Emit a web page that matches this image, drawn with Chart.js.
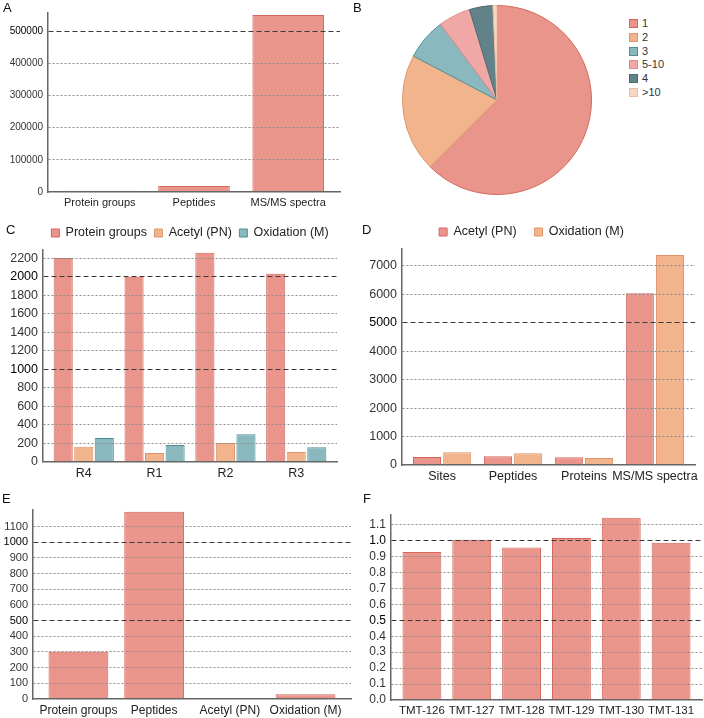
<!DOCTYPE html>
<html>
<head>
<meta charset="utf-8">
<script src="https://cdn.jsdelivr.net/npm/chart.js@4.4.1/dist/chart.umd.min.js"></script>
<style>
body { margin: 0; background: #fff; }
#page { position: relative; width: 704px; height: 718px; overflow: hidden; font-family: "Liberation Sans", Arial, sans-serif; }
.panel { position: absolute; }
.tag { position: absolute; font-size: 13px; line-height: 13px; color: #111; }
#legendB { position: absolute; left: 629px; top: 17px; font-size: 11px; color: #333; }
#legendB div { height: 13.8px; line-height: 13.8px; white-space: nowrap; }
#legendB span { display: inline-block; width: 7px; height: 7px; margin-right: 4px; border: 1px solid; vertical-align: -1px; }
</style>
</head>
<body>
<div id="page">
  <div class="panel" style="left:0;top:0;width:352px;height:212px"><canvas id="chartA"></canvas></div>
  <div class="panel" style="left:402px;top:5px;width:190px;height:190px"><canvas id="chartB"></canvas></div>
  <div class="panel" style="left:0;top:212px;width:352px;height:275px"><canvas id="chartC"></canvas></div>
  <div class="panel" style="left:360px;top:200px;width:344px;height:287px"><canvas id="chartD"></canvas></div>
  <div class="panel" style="left:0;top:490px;width:352px;height:228px"><canvas id="chartE"></canvas></div>
  <div class="panel" style="left:360px;top:490px;width:344px;height:228px"><canvas id="chartF"></canvas></div>
  <div id="legendB"></div>
  <div class="tag" style="left:3px;top:1px">A</div>
  <div class="tag" style="left:353px;top:1px">B</div>
  <div class="tag" style="left:6px;top:223px">C</div>
  <div class="tag" style="left:362px;top:223px">D</div>
  <div class="tag" style="left:2px;top:492px">E</div>
  <div class="tag" style="left:363px;top:492px">F</div>
</div>
<script>
// A - totals
const catA = ["Protein groups", "Peptides", "MS/MS spectra"]
const valA = [3500, 18600, 550000]
const ticksA = [0, 100000, 200000, 300000, 400000, 500000]
const majorA = [500000]

// B - pie
const labelsB = ["1", "2", "3", "5-10", "4", ">10"]
const valB = [62.5, 20.2, 7.1, 5.5, 4.0, 0.7]

// C - replicates
const catC = ["R4", "R1", "R2", "R3"]
const proteinC = [2206, 2003, 2263, 2036]
const acetylC = [163, 94, 203, 105]
const oxidC = [257, 181, 297, 156]
const ticksC = [0, 200, 400, 600, 800, 1000, 1200, 1400, 1600, 1800, 2000, 2200]
const majorC = [1000, 2000]

// D - modifications
const catD = ["Sites", "Peptides", "Proteins", "MS/MS spectra"]
const acetylD = [281, 305, 270, 6033]
const oxidD = [446, 410, 246, 7379]
const ticksD = [0, 1000, 2000, 3000, 4000, 5000, 6000, 7000]
const majorD = [5000]

// E
const catE = ["Protein groups", "Peptides", "Acetyl (PN)", "Oxidation (M)"]
const valE = [301, 1195, 0, 30]
const ticksE = [0, 100, 200, 300, 400, 500, 600, 700, 800, 900, 1000, 1100]
const majorE = [500, 1000]

// F - TMT channels
const catF = ["TMT-126", "TMT-127", "TMT-128", "TMT-129", "TMT-130", "TMT-131"]
const valF = [0.929, 1.006, 0.956, 1.016, 1.144, 0.987]
const ticksF = [0, 0.1, 0.2, 0.3, 0.4, 0.5, 0.6, 0.7, 0.8, 0.9, 1.0, 1.1]
const majorF = [0.5, 1.0]

const salmon = "#E9958B", salmonLine = "#D4675E"
const orange = "#F2B48D", orangeLine = "#E0956A"
const teal = "#89B9BF", tealLine = "#4E8F96"
const pieColors = [salmon, orange, teal, "#EFA8A6", "#62828A", "#F8D6C3"]
const pieLines = [salmonLine, orangeLine, tealLine, "#E08C8A", "#4C6A71", "#EDBCA2"]

const gridMinor = "#8c8c8c"
const gridMajor = "#3a3a3a"
const axisColor = "#666"

Chart.defaults.font.family = '"Liberation Sans", Arial, sans-serif'
Chart.defaults.color = "#222"
Chart.defaults.animation = false

// category axis built on a linear scale so the bars can sit slightly inside the axis line
function indexAxis(categories, pad, fontSize, height, padding) {
    return {
        type: "linear",
        bounds: "data",
        offset: false,
        min: -0.5 - pad,
        max: categories.length - 0.5 + pad,
        afterBuildTicks: axis => { axis.ticks = categories.map((c, i) => ({value: i})) },
        afterFit: axis => { axis.height = height },
        grid: {display: false, drawTicks: false, offset: false},
        border: {display: true, color: axisColor, width: 1.5, z: 1},
        ticks: {autoSkip: false, maxRotation: 0, minRotation: 0, padding: padding, font: {size: fontSize},
            callback: v => categories[v]}
    }
}

function valueAxis(tickValues, majors, max, fontSize, width, format) {
    let isMajor = c => c.tick && majors.includes(c.tick.value)
    return {
        type: "linear",
        bounds: "data",
        min: 0,
        max: max,
        afterBuildTicks: axis => { axis.ticks = tickValues.map(v => ({value: v})) },
        afterFit: axis => { axis.width = width },
        grid: {
            drawTicks: false, z: 1, lineWidth: 1,
            color: c => (c.tick && c.tick.value === 0) ? "rgba(0,0,0,0)" : (isMajor(c) ? gridMajor : gridMinor)
        },
        border: {display: true, color: axisColor, width: 1.5, z: 1,
            dash: c => c.tick ? (isMajor(c) ? [5, 3] : [2, 2]) : []},
        ticks: {autoSkip: false, padding: 5, font: {size: fontSize}, color: c => isMajor(c) ? "#000" : "#333",
            callback: format || (v => String(v))}
    }
}

function bars(label, data, fill, line) {
    return {label: label, data: data, backgroundColor: fill, borderColor: line, borderWidth: 1}
}

function barChart(id, categories, datasets, xAxis, yAxis, padding, legend, barPct, catPct) {
    new Chart(document.getElementById(id), {
        type: "bar",
        data: {labels: categories.map((c, i) => i), datasets: datasets},
        options: {
            responsive: true,
            maintainAspectRatio: false,
            layout: {padding: padding},
            datasets: {bar: {barPercentage: barPct, categoryPercentage: catPct}},
            scales: {x: xAxis, y: yAxis},
            plugins: {legend: legend || {display: false}, tooltip: {enabled: false}}
        }
    })
}

function drawA() {
    barChart("chartA", catA, [bars("A", valA, salmon, salmonLine)],
        indexAxis(catA, 0.05, 11, 20, 4),
        valueAxis(ticksA, majorA, 556000, 10, 48),
        {top: 13, right: 12, left: 0, bottom: 0}, null, 0.76, 1)
}

function drawB() {
    new Chart(document.getElementById("chartB"), {
        type: "pie",
        data: {labels: labelsB, datasets: [{data: valB, backgroundColor: pieColors, borderColor: pieLines, borderWidth: 1}]},
        options: {
            responsive: true,
            maintainAspectRatio: false,
            layout: {padding: 0},
            plugins: {legend: {display: false}, tooltip: {enabled: false}}
        }
    })
    let legendElement = document.getElementById("legendB")
    labelsB.forEach((label, i) => {
        let row = document.createElement("div")
        let swatch = document.createElement("span")
        swatch.style.background = pieColors[i]
        swatch.style.borderColor = pieLines[i]
        row.appendChild(swatch)
        row.appendChild(document.createTextNode(label))
        legendElement.appendChild(row)
    })
}

function drawC() {
    barChart("chartC", catC, [
            bars("Protein groups", proteinC, salmon, salmonLine),
            bars("Acetyl (PN)", acetylC, orange, orangeLine),
            bars("Oxidation (M)", oxidC, teal, tealLine)
        ],
        indexAxis(catC, 0.075, 12.5, 25.3, 4),
        valueAxis(ticksC, majorC, 2300, 12.5, 43),
        {top: 7.25, right: 15, left: 0, bottom: 0},
        {display: true, position: "top", fullSize: false,
            labels: {boxWidth: 8, boxHeight: 8, padding: 7.5, color: "#222", font: {size: 12.5}}},
        0.93, 0.87)
}

function drawD() {
    barChart("chartD", catD, [
            bars("Acetyl (PN)", acetylD, salmon, salmonLine),
            bars("Oxidation (M)", oxidD, orange, orangeLine)
        ],
        indexAxis(catD, 0.065, 12.5, 22, 4.5),
        valueAxis(ticksD, majorD, 7615, 12.5, 34),
        {top: 7.75, right: 9, left: 8, bottom: 0},
        {display: true, position: "top", fullSize: true,
            labels: {boxWidth: 8, boxHeight: 8, padding: 18, color: "#222", font: {size: 12.5}}},
        0.93, 0.85)
}

function drawE() {
    barChart("chartE", catE, [bars("E", valE, salmon, salmonLine)],
        indexAxis(catE, 0.1, 12, 19, 4),
        valueAxis(ticksE, majorE, 1210, 11, 33),
        {top: 19.3, right: 1, left: 0, bottom: 0}, null, 0.79, 1)
}

function drawF() {
    barChart("chartF", catF, [bars("F", valF, salmon, salmonLine)],
        indexAxis(catF, 0.12, 11.5, 18, 4),
        valueAxis(ticksF, majorF, 1.165, 12, 31, v => v.toFixed(1)),
        {top: 24.3, right: 2, left: 0, bottom: 0}, null, 0.78, 1)
}

drawA()
drawB()
drawC()
drawD()
drawE()
drawF()
</script>
</body>
</html>
